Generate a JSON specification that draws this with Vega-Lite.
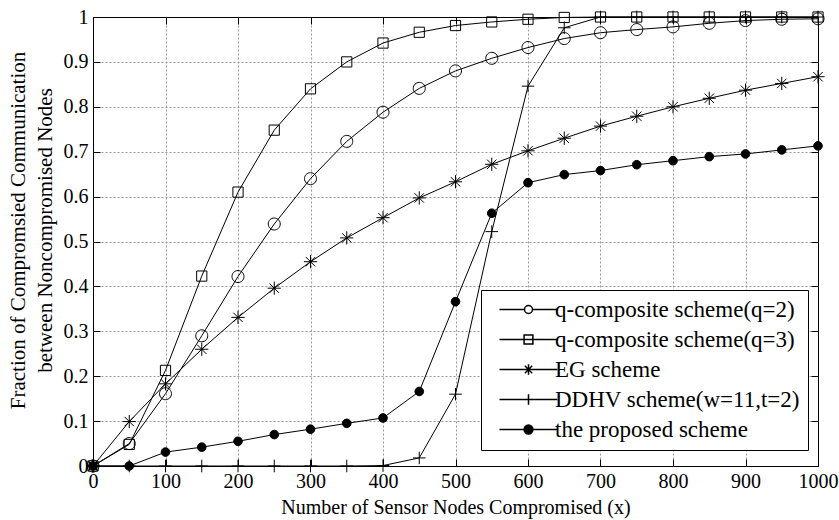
{
  "$schema": "https://vega.github.io/schema/vega-lite/v6.json",
  "width": 725,
  "height": 449,
  "autosize": "none",
  "padding": {"left": 93, "top": 17, "right": 21, "bottom": 54},
  "background": "white",
  "config": {
    "font": "Times New Roman",
    "view": {"stroke": "black", "strokeWidth": 1},
    "axis": {
      "labelFont": "Times New Roman",
      "titleFont": "Times New Roman",
      "labelColor": "black",
      "titleColor": "black",
      "titleFontWeight": "normal",
      "domainColor": "black",
      "tickColor": "black",
      "grid": true,
      "gridColor": "#999999",
      "gridDash": [2, 2],
      "gridWidth": 1,
      "tickSize": -7,
      "labelFontSize": 20,
      "titleFontSize": 20
    },
    "legend": {
      "labelFont": "Times New Roman",
      "labelFontSize": 23,
      "labelColor": "black",
      "labelLimit": 500
    }
  },
  "data": {
    "values": [
      {"x": 0, "y": 0, "s": "q2"}, {"x": 50, "y": 0.05, "s": "q2"}, {"x": 100, "y": 0.161, "s": "q2"}, {"x": 150, "y": 0.29, "s": "q2"}, {"x": 200, "y": 0.422, "s": "q2"}, {"x": 250, "y": 0.539, "s": "q2"}, {"x": 300, "y": 0.64, "s": "q2"}, {"x": 350, "y": 0.723, "s": "q2"}, {"x": 400, "y": 0.788, "s": "q2"}, {"x": 450, "y": 0.841, "s": "q2"}, {"x": 500, "y": 0.88, "s": "q2"}, {"x": 550, "y": 0.908, "s": "q2"}, {"x": 600, "y": 0.932, "s": "q2"}, {"x": 650, "y": 0.952, "s": "q2"}, {"x": 700, "y": 0.965, "s": "q2"}, {"x": 750, "y": 0.972, "s": "q2"}, {"x": 800, "y": 0.978, "s": "q2"}, {"x": 850, "y": 0.986, "s": "q2"}, {"x": 900, "y": 0.992, "s": "q2"}, {"x": 950, "y": 0.995, "s": "q2"}, {"x": 1000, "y": 0.996, "s": "q2"},
      {"x": 0, "y": 0, "s": "q3"}, {"x": 50, "y": 0.048, "s": "q3"}, {"x": 100, "y": 0.213, "s": "q3"}, {"x": 150, "y": 0.423, "s": "q3"}, {"x": 200, "y": 0.61, "s": "q3"}, {"x": 250, "y": 0.748, "s": "q3"}, {"x": 300, "y": 0.84, "s": "q3"}, {"x": 350, "y": 0.9, "s": "q3"}, {"x": 400, "y": 0.942, "s": "q3"}, {"x": 450, "y": 0.966, "s": "q3"}, {"x": 500, "y": 0.981, "s": "q3"}, {"x": 550, "y": 0.989, "s": "q3"}, {"x": 600, "y": 0.995, "s": "q3"}, {"x": 650, "y": 0.999, "s": "q3"}, {"x": 700, "y": 1, "s": "q3"}, {"x": 750, "y": 1, "s": "q3"}, {"x": 800, "y": 1, "s": "q3"}, {"x": 850, "y": 1, "s": "q3"}, {"x": 900, "y": 1, "s": "q3"}, {"x": 950, "y": 1, "s": "q3"}, {"x": 1000, "y": 1, "s": "q3"},
      {"x": 0, "y": 0, "s": "EG"}, {"x": 50, "y": 0.099, "s": "EG"}, {"x": 100, "y": 0.183, "s": "EG"}, {"x": 150, "y": 0.26, "s": "EG"}, {"x": 200, "y": 0.331, "s": "EG"}, {"x": 250, "y": 0.396, "s": "EG"}, {"x": 300, "y": 0.455, "s": "EG"}, {"x": 350, "y": 0.508, "s": "EG"}, {"x": 400, "y": 0.553, "s": "EG"}, {"x": 450, "y": 0.597, "s": "EG"}, {"x": 500, "y": 0.633, "s": "EG"}, {"x": 550, "y": 0.672, "s": "EG"}, {"x": 600, "y": 0.702, "s": "EG"}, {"x": 650, "y": 0.73, "s": "EG"}, {"x": 700, "y": 0.757, "s": "EG"}, {"x": 750, "y": 0.779, "s": "EG"}, {"x": 800, "y": 0.8, "s": "EG"}, {"x": 850, "y": 0.819, "s": "EG"}, {"x": 900, "y": 0.837, "s": "EG"}, {"x": 950, "y": 0.852, "s": "EG"}, {"x": 1000, "y": 0.867, "s": "EG"},
      {"x": 0, "y": 0, "s": "DDHV"}, {"x": 50, "y": 0, "s": "DDHV"}, {"x": 100, "y": 0, "s": "DDHV"}, {"x": 150, "y": 0, "s": "DDHV"}, {"x": 200, "y": 0, "s": "DDHV"}, {"x": 250, "y": 0, "s": "DDHV"}, {"x": 300, "y": 0, "s": "DDHV"}, {"x": 350, "y": 0, "s": "DDHV"}, {"x": 400, "y": 0.001, "s": "DDHV"}, {"x": 450, "y": 0.018, "s": "DDHV"}, {"x": 500, "y": 0.16, "s": "DDHV"}, {"x": 550, "y": 0.522, "s": "DDHV"}, {"x": 600, "y": 0.846, "s": "DDHV"}, {"x": 650, "y": 0.976, "s": "DDHV"}, {"x": 700, "y": 1, "s": "DDHV"}, {"x": 750, "y": 1, "s": "DDHV"}, {"x": 800, "y": 1, "s": "DDHV"}, {"x": 850, "y": 1, "s": "DDHV"}, {"x": 900, "y": 1, "s": "DDHV"}, {"x": 950, "y": 1, "s": "DDHV"}, {"x": 1000, "y": 1, "s": "DDHV"},
      {"x": 0, "y": 0, "s": "P"}, {"x": 50, "y": 0, "s": "P"}, {"x": 100, "y": 0.031, "s": "P"}, {"x": 150, "y": 0.042, "s": "P"}, {"x": 200, "y": 0.055, "s": "P"}, {"x": 250, "y": 0.07, "s": "P"}, {"x": 300, "y": 0.082, "s": "P"}, {"x": 350, "y": 0.095, "s": "P"}, {"x": 400, "y": 0.107, "s": "P"}, {"x": 450, "y": 0.166, "s": "P"}, {"x": 500, "y": 0.366, "s": "P"}, {"x": 550, "y": 0.563, "s": "P"}, {"x": 600, "y": 0.631, "s": "P"}, {"x": 650, "y": 0.649, "s": "P"}, {"x": 700, "y": 0.658, "s": "P"}, {"x": 750, "y": 0.671, "s": "P"}, {"x": 800, "y": 0.68, "s": "P"}, {"x": 850, "y": 0.689, "s": "P"}, {"x": 900, "y": 0.695, "s": "P"}, {"x": 950, "y": 0.704, "s": "P"}, {"x": 1000, "y": 0.713, "s": "P"}
    ]
  },
  "layer": [
    {
      "mark": {"type": "line", "color": "black", "strokeWidth": 1, "clip": false},
      "encoding": {
        "x": {"field": "x", "type": "quantitative", "scale": {"domain": [0, 1000], "nice": false},
          "axis": {"orient": "bottom", "values": [0,100,200,300,400,500,600,700,800,900,1000], "format": "d", "title": "Number of Sensor Nodes Compromised (x)", "labelPadding": 12, "titlePadding": 6, "labelFlush": false}},
        "y": {"field": "y", "type": "quantitative", "scale": {"domain": [0, 1], "nice": false},
          "axis": {"orient": "left", "values": [0,0.1,0.2,0.3,0.4,0.5,0.6,0.7,0.8,0.9,1], "format": ".1~f", "title": ["Fraction of Compromsied Communication", "between Noncompromised Nodes"], "titleFontSize": 21, "titleLineHeight": 27, "titleY": 213, "labelPadding": 12, "titlePadding": 8, "labelFlush": false}},
        "detail": {"field": "s"}
      }
    },
    {
      "mark": {"type": "point", "stroke": "black", "strokeWidth": 1, "opacity": 1, "size": 144, "clip": false},
      "encoding": {
        "x": {"field": "x", "type": "quantitative",
          "axis": {"orient": "top", "values": [0,100,200,300,400,500,600,700,800,900,1000], "labels": false, "grid": false, "title": null}},
        "y": {"field": "y", "type": "quantitative",
          "axis": {"orient": "right", "values": [0,0.1,0.2,0.3,0.4,0.5,0.6,0.7,0.8,0.9,1], "labels": false, "grid": false, "title": null}},
        "shape": {"field": "s", "type": "nominal", "legend": null,
          "scale": {"domain": ["q2", "q3", "EG", "DDHV", "P"],
            "range": [
              "M1,0A1,1 0 1,1 -1,0A1,1 0 1,1 1,0Z",
              "M-0.85,-0.85H0.85V0.85H-0.85Z",
              "M-1.1,0H1.1M0,-1.1V1.1M-0.78,-0.78L0.78,0.78M-0.78,0.78L0.78,-0.78",
              "M-1.05,0H1.05M0,-1.05V1.05",
              "M0.72,0A0.72,0.72 0 1,1 -0.72,0A0.72,0.72 0 1,1 0.72,0Z"
            ]}},
        "fill": {"field": "s", "type": "nominal", "legend": null,
          "scale": {"domain": ["q2", "q3", "EG", "DDHV", "P"], "range": ["transparent", "transparent", "transparent", "transparent", "black"]}}
      }
    },
    {
      "mark": {"type": "point", "stroke": "black", "strokeWidth": 1, "opacity": 1, "size": 0},
      "encoding": {
        "x": {"field": "x", "type": "quantitative", "axis": null},
        "y": {"field": "y", "type": "quantitative", "axis": null},
        "shape": {"field": "s", "type": "nominal",
          "scale": {"domain": ["q2", "q3", "EG", "DDHV", "P"],
            "range": [
              "M-7.25,0H-1M1,0H7.25M1,0A1,1 0 1,1 -1,0A1,1 0 1,1 1,0Z",
              "M-7.25,0H7.25M-1.1,-1.1H1.1V1.1H-1.1Z",
              "M-7.25,0H7.25M0,-1.3V1.3M-0.92,-0.92L0.92,0.92M-0.92,0.92L0.92,-0.92",
              "M-7.25,0H7.25M0,-1.3V1.3",
              "M-7.25,0H7.25M1.1,0A1.1,1.1 0 1,1 -1.1,0A1.1,1.1 0 1,1 1.1,0Z"
            ]},
          "legend": {"title": null, "orient": "none", "legendX": 388, "legendY": 273, "symbolSize": 64, "symbolOffset": 28, "labelOffset": 15, "padding": 8, "rowPadding": 6, "fillColor": "white", "strokeColor": "black", "labelLimit": 500, "labelFont": "Times New Roman",
            "labelExpr": "{'q2': 'q-composite scheme(q=2)', 'q3': 'q-composite scheme(q=3)', 'EG': 'EG scheme', 'DDHV': 'DDHV scheme(w=11,t=2)', 'P': 'the proposed scheme'}[datum.value]"}},
        "fill": {"field": "s", "type": "nominal",
          "scale": {"domain": ["q2", "q3", "EG", "DDHV", "P"], "range": ["transparent", "transparent", "transparent", "transparent", "black"]},
          "legend": {"title": null, "orient": "none", "legendX": 388, "legendY": 273, "symbolSize": 64, "symbolOffset": 28, "labelOffset": 15, "padding": 8, "rowPadding": 6, "fillColor": "white", "strokeColor": "black", "labelLimit": 500, "labelFont": "Times New Roman",
            "labelExpr": "{'q2': 'q-composite scheme(q=2)', 'q3': 'q-composite scheme(q=3)', 'EG': 'EG scheme', 'DDHV': 'DDHV scheme(w=11,t=2)', 'P': 'the proposed scheme'}[datum.value]"}}
      }
    }
  ],
  "resolve": {
    "scale": {"shape": "independent", "fill": "independent"},
    "axis": {"x": "independent", "y": "independent"}
  }
}
